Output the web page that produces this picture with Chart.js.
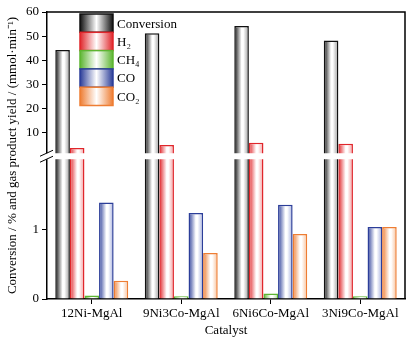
<!DOCTYPE html>
<html>
<head>
<meta charset="utf-8">
<script src="https://cdn.jsdelivr.net/npm/chart.js@4/dist/chart.umd.min.js"></script>
<style>
  html, body { margin: 0; padding: 0; background: #fff; }
  #wrap { width: 413px; height: 345px; }
</style>
</head>
<body>
<div id="wrap"><canvas id="myChart" width="413" height="345"></canvas></div>
<script>
const catalysts = ['12Ni-MgAl', '9Ni3Co-MgAl', '6Ni6Co-MgAl', '3Ni9Co-MgAl'];
const conversion = [44.3, 51.2, 54.2, 48.2];
const h2 = [3.8, 5.0, 5.9, 5.5];
const ch4 = [0.05, 0.04, 0.08, 0.04];
const co = [1.38, 1.23, 1.35, 1.03];
const co2 = [0.26, 0.66, 0.93, 1.03];
const yTicks = [0, 1, 10, 20, 30, 40, 50, 60];

const seriesNames = ['Conversion', 'H\u2082', 'CH\u2084', 'CO', 'CO\u2082'];
const edgeColors = ['#111111', '#e0262b', '#5cb531', '#2c3e99', '#ee7d33'];
const sideColors = ['#9a9a9a', '#f29a9c', '#b7e09f', '#a6b0de', '#f6bf98'];

// broken axis: 0..2 linear, small gap, then 2..60 squeezed
const BREAK = 2, GAP = 0.1, K = 0.0346;
function toAxis(v) {
  return v <= BREAK ? v : BREAK + GAP + (v - BREAK) * K;
}
function fromAxis(a) {
  return a <= BREAK ? a : BREAK + (a - BREAK - GAP) / K;
}

const CAT_PCT = 0.815;
const FONT = 'Liberation Serif, Times New Roman, serif';

function barFill(c) {
  const chart = c.chart;
  const x = chart.scales.x;
  const i = c.datasetIndex;
  if (!x || c.dataIndex === undefined || !chart.chartArea) return edgeColors[i];
  const catW = x.width / catalysts.length;
  const groupW = catW * CAT_PCT;
  const barW = groupW / 5;
  const left = x.getPixelForValue(c.dataIndex) - groupW / 2 + i * barW;
  const g = chart.ctx.createLinearGradient(left, 0, left + barW, 0);
  g.addColorStop(0, edgeColors[i]);
  g.addColorStop(0.5, '#ffffff');
  g.addColorStop(0.62, '#ffffff');
  g.addColorStop(1, sideColors[i]);
  return g;
}

const allSeries = [conversion, h2, ch4, co, co2];

const breakPlugin = {
  id: 'breakAxis',
  afterDatasetsDraw(chart) {
    const { ctx, chartArea } = chart;
    const y = chart.scales.y;
    const y1 = y.getPixelForValue(BREAK + GAP);
    const y2 = y.getPixelForValue(BREAK);
    ctx.save();
    ctx.fillStyle = '#fff';
    ctx.fillRect(chartArea.left - 1, y1 + 1, chartArea.right - chartArea.left, y2 - y1 - 1);
    ctx.strokeStyle = '#000';
    ctx.lineWidth = 1;
    [y1 + 1, y2].forEach(yy => {
      ctx.beginPath();
      ctx.moveTo(chartArea.left - 7, yy + 3);
      ctx.lineTo(chartArea.left + 6, yy - 3);
      ctx.stroke();
    });
    ctx.restore();
  },
  afterDraw(chart) {
    const { ctx, chartArea } = chart;
    ctx.save();
    ctx.strokeStyle = '#000';
    ctx.lineWidth = 1.5;
    ctx.beginPath();
    ctx.moveTo(chartArea.left, chartArea.top);
    ctx.lineTo(chartArea.right, chartArea.top);
    ctx.lineTo(chartArea.right, chartArea.bottom);
    ctx.stroke();

    // legend inside the plot
    const lx = 80, ly = 14, sw = 33, sh = 18.3;
    ctx.font = '13px ' + FONT;
    ctx.textBaseline = 'middle';
    seriesNames.forEach((name, i) => {
      const top = ly + i * sh;
      const g = ctx.createLinearGradient(lx, 0, lx + sw, 0);
      g.addColorStop(0, edgeColors[i]);
      g.addColorStop(0.5, '#ffffff');
      g.addColorStop(1, edgeColors[i]);
      ctx.fillStyle = g;
      ctx.fillRect(lx, top, sw, sh);
      ctx.lineWidth = 1.5;
      ctx.strokeStyle = edgeColors[i];
      ctx.strokeRect(lx, top, sw, sh);
      ctx.fillStyle = '#000';
      ctx.fillText(name, lx + sw + 4, top + sh / 2 + 1);
    });
    ctx.restore();
  }
};

new Chart(document.getElementById('myChart'), {
  type: 'bar',
  data: {
    labels: catalysts,
    datasets: allSeries.map((vals, i) => ({
      label: seriesNames[i],
      data: vals.map(toAxis),
      backgroundColor: barFill,
      borderColor: edgeColors[i],
      borderWidth: 1.5,
      categoryPercentage: CAT_PCT,
      barPercentage: 1.0
    }))
  },
  options: {
    responsive: false,
    animation: false,
    layout: { padding: { left: 0, top: 12, right: 8, bottom: 0 } },
    scales: {
      x: {
        grid: { display: true, drawOnChartArea: false, offset: false, tickLength: 5, color: '#000', lineWidth: 1 },
        border: { display: true, color: '#000', width: 1.5 },
        ticks: { color: '#000', font: { family: FONT, size: 13 }, padding: 2, maxRotation: 0 },
        title: { display: true, text: 'Catalyst', color: '#000', font: { family: FONT, size: 13 }, padding: { top: 0, bottom: 7 } },
        afterFit(scale) { scale.height = 46; }
      },
      y: {
        min: 0,
        max: toAxis(60),
        grid: { display: true, drawOnChartArea: false, tickLength: 5, color: '#000', lineWidth: 1 },
        border: { display: true, color: '#000', width: 1.5 },
        afterBuildTicks(scale) {
          scale.ticks = yTicks.map(v => ({ value: toAxis(v) }));
        },
        ticks: {
          color: '#000',
          font: { family: FONT, size: 13 },
          padding: 3,
          callback: v => String(Math.round(fromAxis(v)))
        },
        title: {
          display: true,
          text: 'Conversion / % and gas product yield / (mmol\u00b7min\u207b\u00b9)',
          color: '#000',
          font: { family: FONT, size: 13 },
          padding: { top: 5, bottom: 0 }
        },
        afterFit(scale) { scale.width = 47; }
      }
    },
    plugins: {
      legend: { display: false },
      title: { display: false },
      tooltip: { enabled: false }
    }
  },
  plugins: [breakPlugin]
});
</script>
</body>
</html>
